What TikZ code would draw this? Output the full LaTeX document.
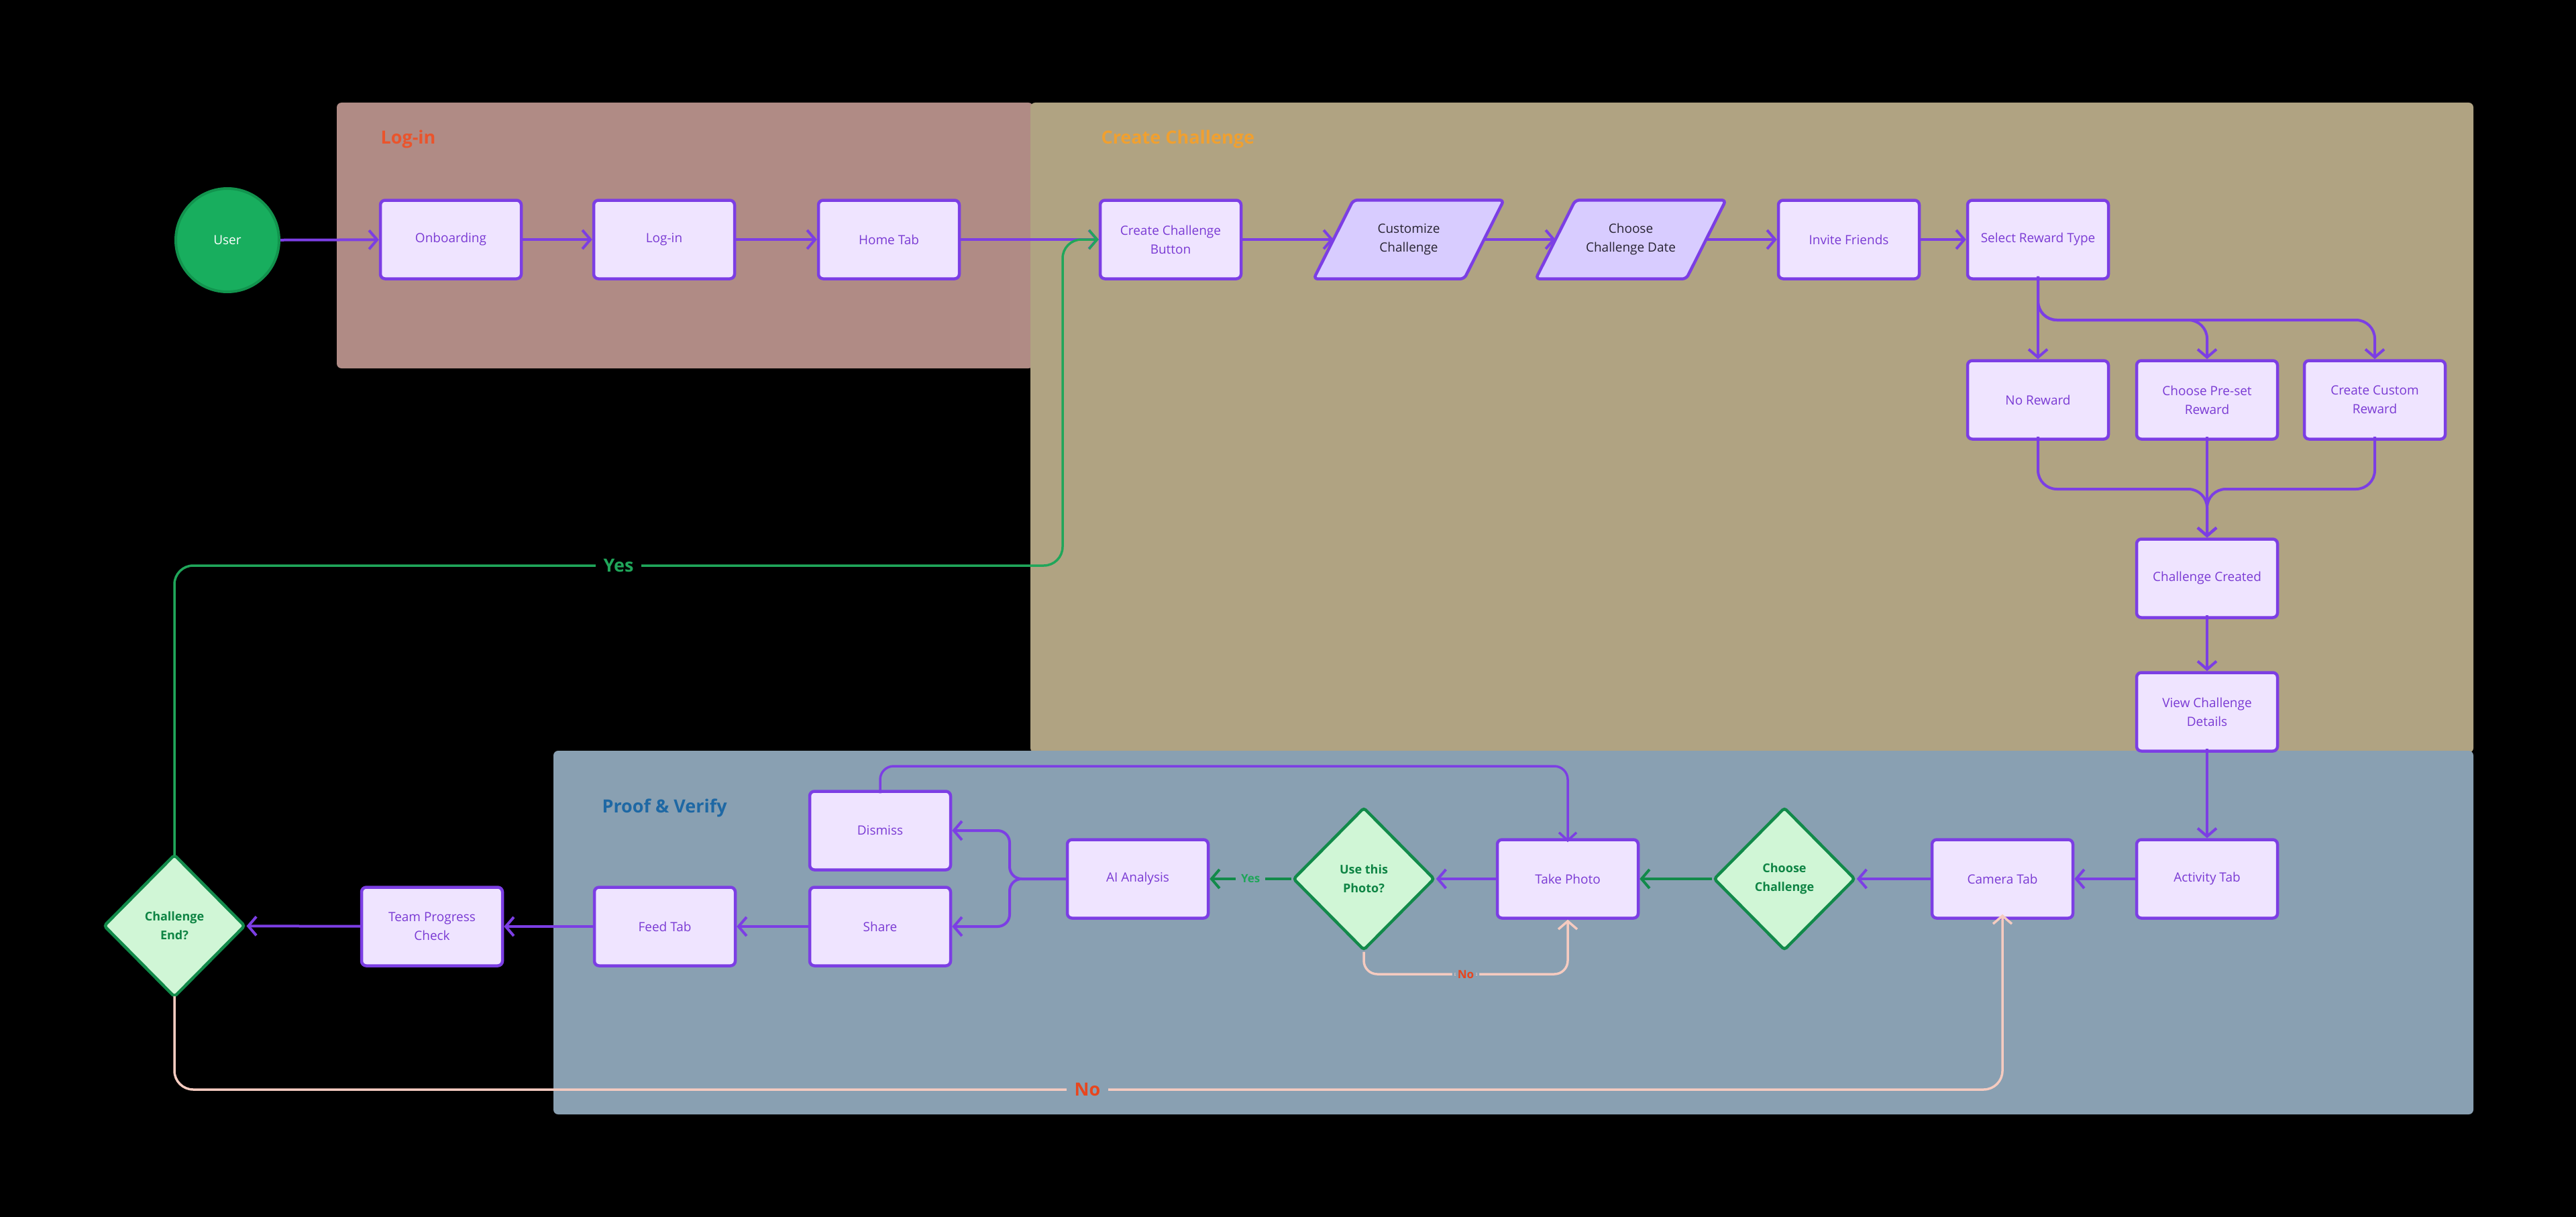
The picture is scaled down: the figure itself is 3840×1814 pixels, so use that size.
\documentclass[tikz,border=0pt]{standalone}
\usepackage{fontspec}
\setmainfont{Open Sans}
\usetikzlibrary{arrows.meta,shapes.geometric,calc}
\definecolor{bgblack}{RGB}{0,0,0}
\definecolor{loginpanel}{RGB}{176,139,133}
\definecolor{createpanel}{RGB}{176,163,130}
\definecolor{proofpanel}{RGB}{137,160,178}
\definecolor{pbord}{RGB}{124,62,228}
\definecolor{pfill}{RGB}{239,228,255}
\definecolor{ptext}{RGB}{122,58,212}
\definecolor{parafill}{RGB}{216,204,255}
\definecolor{dtext}{RGB}{40,36,50}
\definecolor{gbord}{RGB}{18,138,74}
\definecolor{gfill}{RGB}{208,246,214}
\definecolor{gtext}{RGB}{14,132,68}
\definecolor{userfill}{RGB}{24,174,94}
\definecolor{userbord}{RGB}{18,148,78}
\definecolor{yesgreen}{RGB}{32,166,90}
\definecolor{nopink}{RGB}{245,203,192}
\definecolor{nored}{RGB}{232,70,30}
\definecolor{logintitle}{RGB}{234,84,44}
\definecolor{createtitle}{RGB}{240,160,48}
\definecolor{prooftitle}{RGB}{30,104,164}
\pgfdeclarelayer{panels}
\pgfdeclarelayer{shp}
\pgfsetlayers{panels,shp,main}
\tikzset{
  box/.style={draw=pbord, fill=pfill, line width=4.5pt, rounded corners=7pt,
    minimum width=210pt, minimum height=117pt, text=ptext, align=center,
    inner sep=0pt, font=\fontsize{19}{28}\selectfont},
  paranode/.style={minimum width=224pt, minimum height=117pt, text=dtext, align=center,
    inner sep=0pt, font=\fontsize{19}{28}\selectfont},
  parashape/.style={draw=pbord, fill=parafill, line width=4.5pt, rounded corners=6pt},
  dia/.style={diamond, draw=gbord, fill=gfill, line width=4.5pt, rounded corners=4pt,
    minimum width=211pt, minimum height=213pt, text=gtext, align=center, inner sep=0pt,
    font=\fontsize{18}{28}\selectfont\bfseries},
  panel/.style={rounded corners=7pt},
  ptitle/.style={anchor=west, font=\fontsize{27}{32}\selectfont\bfseries},
  flow/.style={draw=pbord, line width=4pt, -{Straight Barb[length=12pt,width=28pt]}},
  thinflow/.style={draw=pbord, line width=3.5pt, rounded corners=20pt, -{Straight Barb[length=12pt,width=26pt]}},
  gflow/.style={draw=gbord, line width=4pt, -{Straight Barb[length=12pt,width=28pt]}},
  yesflow/.style={draw=yesgreen, line width=3.5pt, rounded corners=28pt, -{Straight Barb[length=12pt,width=28pt]}},
  noflow/.style={draw=nopink, line width=3.5pt, rounded corners=28pt, -{Straight Barb[length=12pt,width=28pt]}},
  biglbl/.style={font=\fontsize{27}{32}\selectfont\bfseries, inner xsep=12pt, inner ysep=2pt},
  smalllbl/.style={font=\fontsize{17}{20}\selectfont\bfseries, inner xsep=8pt, inner ysep=2pt},
}
\begin{document}
\begin{tikzpicture}[x=1pt,y=-1pt]
\useasboundingbox (0,0) rectangle (3840,1814);
\begin{pgfonlayer}{panels}
\fill[bgblack] (0,0) rectangle (3840,1814);
\fill[loginpanel,panel] (502,153) rectangle (1540,549);
\fill[createpanel,panel] (1536,153) rectangle (3687,1122);
\fill[proofpanel,panel] (825,1119) rectangle (3687,1661);
\end{pgfonlayer}
% titles
\node[ptitle, text=logintitle] (tlogin) at (564,207) {Log-in};
\node[ptitle, text=createtitle] (tcreate) at (1638,207) {Create Challenge};
\node[ptitle, text=prooftitle] (tproof) at (894,1204) {Proof \& Verify};
% nodes
\node[circle, draw=userbord, fill=userfill, line width=4pt, minimum size=154pt, text=white,
  font=\fontsize{19}{24}\selectfont] (user) at (339,358) {User};
\node[box] (onb) at (672,357) {Onboarding};
\node[box] (login) at (990,357) {Log-in};
\node[box] (home) at (1325,357) {Home Tab};
\node[box] (ccb) at (1745,357) {Create Challenge\\Button};
\node[paranode] (cust) at (2100,357) {Customize\\Challenge};
\node[paranode] (cdate) at (2431,357) {Choose\\Challenge Date};
\node[box] (invite) at (2756,357) {Invite Friends};
\node[box] (srt) at (3038,357) {Select Reward Type};
\node[box] (norew) at (3038,596) {No Reward};
\node[box] (preset) at (3290,596) {Choose Pre-set\\Reward};
\node[box] (custom) at (3540,596) {Create Custom\\Reward};
\node[box] (created) at (3290,862) {Challenge Created};
\node[box] (details) at (3290,1061) {View Challenge\\Details};
\node[box] (activity) at (3290,1310) {Activity Tab};
\node[box] (camera) at (2985,1310) {Camera Tab};
\node[dia] (choosech) at (2660,1310) {Choose\\Challenge};
\node[box] (photo) at (2337,1310) {Take Photo};
\node[dia] (usephoto) at (2033,1310) {Use this\\Photo?};
\node[box] (ai) at (1696,1310) {AI Analysis};
\node[box] (dismiss) at (1312,1238) {Dismiss};
\node[box] (share) at (1312,1381) {Share};
\node[box] (feed) at (991,1381) {Feed Tab};
\node[box] (team) at (644,1381) {Team Progress\\Check};
\node[dia] (chend) at (260,1380) {Challenge\\End?};
% parallelogram shapes
\begin{pgfonlayer}{shp}
\foreach \n in {cust,cdate}{
  \draw[parashape] ([xshift=29.5pt]\n.north west) -- ([xshift=29.5pt]\n.north east)
    -- ([xshift=-29.5pt]\n.south east) -- ([xshift=-29.5pt]\n.south west) -- cycle;
}
\end{pgfonlayer}
% connectors
\draw[flow] (user) -- (onb);
\draw[flow] (onb) -- (login);
\draw[flow] (login) -- (home);
\draw[flow] (home) -- (ccb);
\draw[flow] (ccb) -- (cust);
\draw[flow] (cust) -- (cdate);
\draw[flow] (cdate) -- (invite);
\draw[flow] (invite) -- (srt);
\draw[flow] ([yshift=6pt]srt.south) -- (norew);
\draw[flow, rounded corners=28pt] ([yshift=6pt]srt.south) -- (3038,477) -- (3290,477) -- (preset.north);
\draw[flow, rounded corners=28pt] ([yshift=6pt]srt.south) -- (3038,477) -- (3540,477) -- (custom.north);
\draw[flow, rounded corners=28pt] ([yshift=6pt]norew.south) -- (3038,729) -- (3290,729) -- (created.north);
\draw[flow] ([yshift=6pt]preset.south) -- (created.north);
\draw[flow, rounded corners=28pt] ([yshift=6pt]custom.south) -- (3540,729) -- (3290,729) -- (created.north);
\draw[flow] ([yshift=6pt]created.south) -- (details.north);
\draw[flow] ([yshift=6pt]details.south) -- (activity.north);
\draw[flow] (activity) -- (camera);
\draw[flow] (camera) -- (choosech);
\draw[gflow] (choosech) -- (photo);
\draw[flow] (photo) -- (usephoto);
\draw[gflow] (usephoto) -- node[smalllbl, fill=proofpanel, text=yesgreen] (lyes) {Yes} (ai);
\draw[noflow, rounded corners=20pt] (usephoto.south) -- (2033,1452) -- node[smalllbl, fill=proofpanel, text=nored, pos=0.5] (lno) {No} (2337,1452) -- (photo.south);
\draw[flow, rounded corners=18pt] (ai.west) -- (1505,1310) -- (1505,1238) -- (dismiss.east);
\draw[flow, rounded corners=18pt] (ai.west) -- (1505,1310) -- (1505,1381) -- (share.east);
\draw[thinflow] ([yshift=-5pt]dismiss.north) -- (1312,1142) -- (2337,1142) -- ([yshift=-6pt]photo.north);
\draw[flow] (share) -- (feed);
\draw[flow] (feed) -- (team);
\draw[flow] (team) -- (chend);
\draw[yesflow] ([yshift=-4pt]chend.north) -- (260,843) -- (1584,843) -- (1584,357) -- (ccb.west);
\node[biglbl, fill=bgblack, text=yesgreen] (lbigyes) at (922,843) {Yes};
\draw[noflow] ([yshift=4pt]chend.south) -- (260,1624) -- (2985,1624) -- ([yshift=8pt]camera.south);
\node[biglbl, fill=proofpanel, text=nored] (lbigno) at (1621,1624) {No};
\end{tikzpicture}
\end{document}
